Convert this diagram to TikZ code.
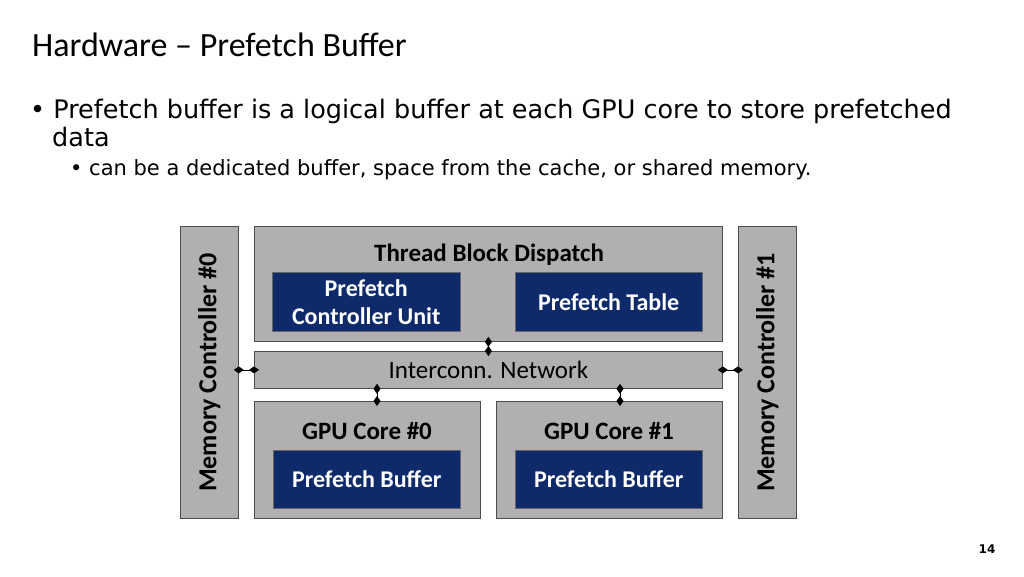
\documentclass[tikz,border=0pt]{standalone}
\usepackage{fontspec}
\setmainfont{Carlito}
\newfontfamily\bodyfont{DejaVu Sans}
\usetikzlibrary{arrows.meta}
\definecolor{boxgray}{HTML}{B1AFB1}
\definecolor{navyblue}{HTML}{0E2A6A}
\tikzset{
  unit/.style={draw=black!70, fill=boxgray, line width=0.8pt, anchor=north west, inner sep=0pt},
  inner/.style={draw=black!60, fill=navyblue, text=white, font=\fontsize{24}{29}\selectfont\bfseries, anchor=north west, inner sep=0pt, align=center},
  link/.style={{Diamond[length=10pt,width=7pt]}-{Diamond[length=10pt,width=7pt]}, line width=0.8pt, shorten <=-5pt, shorten >=-5pt}
}
\begin{document}
\begin{tikzpicture}[x=1pt, y=-1pt]
    \useasboundingbox[fill=white] (0,0) rectangle (1024,576);
    \node[anchor=base west, inner sep=0pt, font=\fontsize{34}{40}\selectfont] at (32,56) {Hardware -- Prefetch Buffer};
    \node[anchor=base west, inner sep=0pt, font=\bodyfont\fontsize{25.5}{30}\selectfont] at (30,118) {\textbullet\ Prefetch buffer is a logical buffer at each GPU core to store prefetched};
    \node[anchor=base west, inner sep=0pt, font=\bodyfont\fontsize{25.5}{30}\selectfont] at (52,146) {data};
    \node[anchor=base west, inner sep=0pt, font=\bodyfont\fontsize{21}{25}\selectfont] at (70,175) {\textbullet\ can be a dedicated buffer, space from the cache, or shared memory.};
    % memory controllers
    \node[unit, minimum width=58pt, minimum height=292pt] (mc0) at (180,226) {};
    \node[rotate=90, font=\fontsize{26}{30}\selectfont\bfseries] at (mc0.center) {Memory Controller \#0};
    \node[unit, minimum width=58pt, minimum height=292pt] (mc1) at (738,226) {};
    \node[rotate=90, font=\fontsize{26}{30}\selectfont\bfseries] at (mc1.center) {Memory Controller \#1};
    % dispatch
    \node[unit, minimum width=468pt, minimum height=115pt] (tbd) at (254,226) {};
    \node[font=\fontsize{25}{30}\selectfont\bfseries] at (489,255) {Thread Block Dispatch};
    \node[inner, minimum width=188pt, minimum height=59pt] (pcu) at (272,272) {Prefetch\\[-1pt]Controller Unit};
    \node[inner, minimum width=187pt, minimum height=59pt] (ptab) at (515,272) {Prefetch Table};
    % network
    \node[unit, minimum width=468pt, minimum height=37pt, font=\fontsize{25}{30}\selectfont] (net) at (254,351) {Interconn. Network};
    % cores
    \node[unit, minimum width=226pt, minimum height=117pt] (core0) at (254,401) {};
    \node[font=\fontsize{25}{30}\selectfont\bfseries] at (367,431) {GPU Core \#0};
    \node[inner, minimum width=187pt, minimum height=58pt] (pb0) at (273,450) {Prefetch Buffer};
    \node[unit, minimum width=226pt, minimum height=117pt] (core1) at (496,401) {};
    \node[font=\fontsize{25}{30}\selectfont\bfseries] at (609,431) {GPU Core \#1};
    \node[inner, minimum width=187pt, minimum height=58pt] (pb1) at (515,450) {Prefetch Buffer};
    % links
    \draw[link] (tbd.south) -- (net.north);
    \draw[link] (mc0.east |- net.west) -- (net.west);
    \draw[link] (net.east) -- (mc1.west |- net.east);
    \draw[link] (core0.north -| 377,0) -- (net.south -| 377,0);
    \draw[link] (core1.north -| 620,0) -- (net.south -| 620,0);
    \node[font=\bodyfont\bfseries\fontsize{12}{14}\selectfont] at (987,549) {14};
\end{tikzpicture}
\end{document}
